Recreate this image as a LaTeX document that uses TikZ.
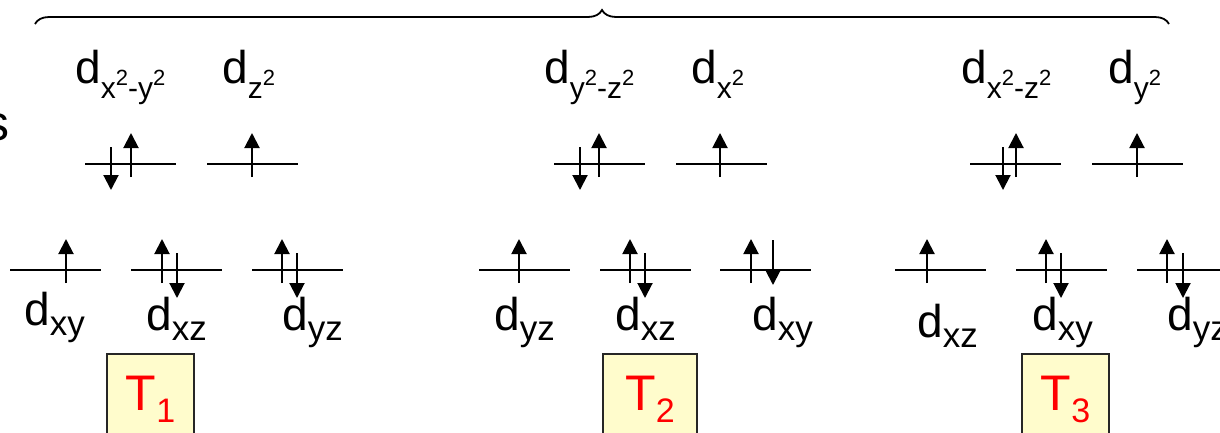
\documentclass[tikz,border=0pt]{standalone}
\usepackage{fontspec}
\setmainfont{Liberation Sans}
\usetikzlibrary{arrows.meta,decorations.pathreplacing}

% orbital labels: d with a lowered index, and a small raised 2
\newcommand{\orbsq}{\raisebox{13pt}{\fontsize{22}{22}\selectfont 2}}
\newcommand{\orbd}[1]{d\raisebox{-10pt}{\fontsize{35}{35}\selectfont #1}}
\newcommand{\orbe}[1]{d\raisebox{-15pt}{\fontsize{30}{30}\selectfont #1}}

\begin{document}
\begin{tikzpicture}[x=1pt, y=-1pt,
    level/.style={line width=2pt},
    spin/.style={line width=2pt, -{Triangle[width=15pt,length=15pt]}},
    lbl/.style={anchor=base west, inner sep=0pt, font=\fontsize{46}{46}\selectfont},
    tbox/.style={draw=black!85, line width=1.5pt, fill=yellow!20, text=red,
        anchor=north, inner sep=0pt, minimum width=87pt,
        text height=57pt, text depth=33pt, font=\fontsize{50}{50}\selectfont}]
    \useasboundingbox (0,0) rectangle (1220,432);

    % brace over the three cases
    \coordinate (bl) at (35,24);
    \coordinate (br) at (1169,24);
    \draw[decorate, decoration={brace, amplitude=14pt}, line width=1.8pt] (bl) -- (br);

    \node[lbl, anchor=base east, font=\fontsize{50}{50}\selectfont] (s) at (10,140) {s};

    % levels
    \foreach \x in {85,207,554,676,970,1092}
        \draw[level] (\x,164) -- ++(91,0);
    \foreach \x in {10,131,252,479,600,720,895,1016,1137}
        \draw[level] (\x,270) -- ++(91,0);

    % spins, upper levels
    \foreach \x in {131,252,599,720,1016,1137}
        \draw[spin] (\x,177) -- (\x,133);
    \foreach \x in {111,580,1003}
        \draw[spin] (\x,147) -- (\x,190);
    % spins, lower levels
    \foreach \x in {66,162,282,519,630,751,927,1046,1167}
        \draw[spin] (\x,283) -- (\x,239);
    \foreach \x in {177,297,645,1061,1183}
        \draw[spin] (\x,253) -- (\x,298);
    \draw[spin] (773,240) -- (773,285);

    % upper labels
    \node[lbl] (e1a) at (75,83) {\orbe{x\orbsq-y\orbsq}};
    \node[lbl] (e1b) at (222,83) {\orbe{z\orbsq}};
    \node[lbl] (e2a) at (544,83) {\orbe{y\orbsq-z\orbsq}};
    \node[lbl] (e2b) at (691,83) {\orbe{x\orbsq}};
    \node[lbl] (e3a) at (961,83) {\orbe{x\orbsq-z\orbsq}};
    \node[lbl] (e3b) at (1108,83) {\orbe{y\orbsq}};

    % lower labels
    \node[lbl] (t1a) at (24,325) {\orbd{xy}};
    \node[lbl] (t1b) at (146,330) {\orbd{xz}};
    \node[lbl] (t1c) at (282,330) {\orbd{yz}};
    \node[lbl] (t2a) at (494,330) {\orbd{yz}};
    \node[lbl] (t2b) at (615,330) {\orbd{xz}};
    \node[lbl] (t2c) at (752,330) {\orbd{xy}};
    \node[lbl] (t3a) at (917,337) {\orbd{xz}};
    \node[lbl] (t3b) at (1032,330) {\orbd{xy}};
    \node[lbl] (t3c) at (1167,330) {\orbd{yz}};

    % cases
    \node[tbox] (T1) at (150.5,353) {T\raisebox{-12pt}{\fontsize{34}{34}\selectfont 1}};
    \node[tbox, minimum width=94pt] (T2) at (650,353) {T\raisebox{-12pt}{\fontsize{34}{34}\selectfont 2}};
    \node[tbox] (T3) at (1065.5,353) {T\raisebox{-12pt}{\fontsize{34}{34}\selectfont 3}};
\end{tikzpicture}
\end{document}
